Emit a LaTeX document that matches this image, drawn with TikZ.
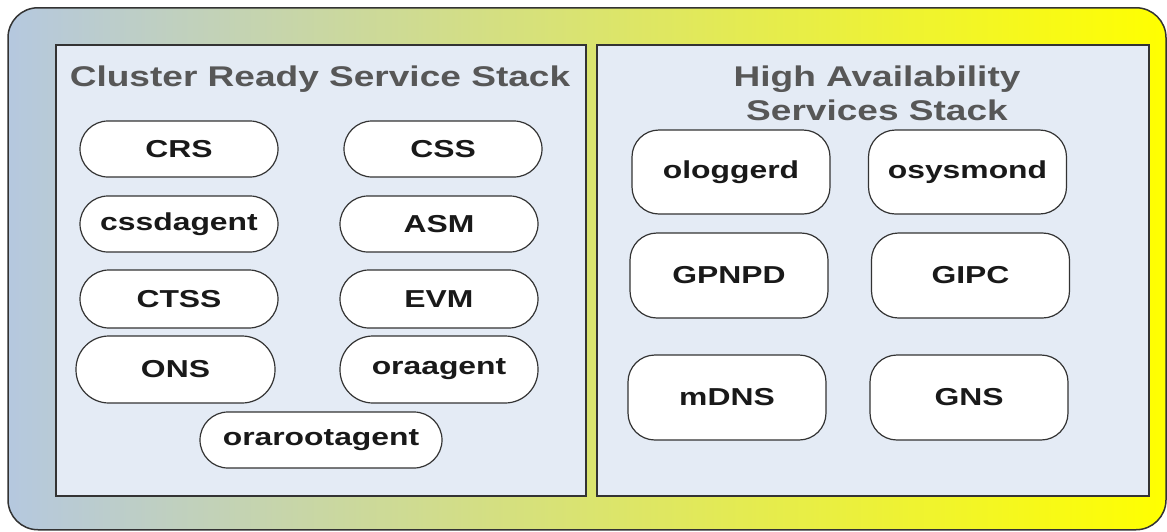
\documentclass[tikz,border=0pt]{standalone}
\usepackage{fontspec}
\newfontfamily\dfont[FakeStretch=1.3]{Liberation Sans}
\usetikzlibrary{positioning}
\definecolor{bgleft}{HTML}{B5C8DF}
\definecolor{bgright}{HTML}{FFFF00}
\definecolor{panelfill}{HTML}{E4EBF5}
\definecolor{edge}{HTML}{333333}
\definecolor{titlegray}{HTML}{575757}
\tikzset{
  outerbox/.style={draw=edge, line width=1.5pt, rounded corners=30pt, left color=bgleft, right color=bgright, inner sep=0pt},
  panel/.style={draw=edge, line width=1.5pt, fill=panelfill, inner sep=0pt},
  pill/.style={draw=edge, line width=1.2pt, fill=white, rounded corners=28pt, inner sep=0pt,
    minimum width=198pt, minimum height=56pt, font=\dfont\bfseries\fontsize{24.5}{29}\selectfont, text=black!90},
  rbox/.style={draw=edge, line width=1.2pt, fill=white, rounded corners=27pt, inner sep=0pt,
    minimum width=198pt, minimum height=85pt, font=\dfont\bfseries\fontsize{24.5}{29}\selectfont, text=black!90},
  ttl/.style={font=\dfont\bfseries\fontsize{28.5}{34}\selectfont, text=titlegray, inner sep=0pt, align=center}
}
\begin{document}
\begin{tikzpicture}[x=1pt, y=-1pt]
\useasboundingbox (0,0) rectangle (1167,531);
\node[outerbox, minimum width=1158pt, minimum height=522pt] (bg) at (587,268.75) {};
\node[panel, minimum width=530pt, minimum height=451pt] (crsstack) at (321,270.5) {};
\node[panel, minimum width=552pt, minimum height=451pt] (hasstack) at (873,270.5) {};
\node[ttl, anchor=base] (crstitle) at (320,86) {Cluster Ready Service Stack};
\node[ttl, anchor=base] (hastitle1) at (877,86) {High Availability};
\node[ttl, anchor=base] (hastitle2) at (877,120) {Services Stack};
% left stack
\node[pill] (crs) at (179,149) {CRS};
\node[pill] (css) at (443,149) {CSS};
\node[pill] (cssdagent) at (179,224) {cssdagent};
\node[pill] (asm) at (439,224) {ASM};
\node[pill, minimum height=58pt, rounded corners=29pt] (ctss) at (179,299) {CTSS};
\node[pill, minimum height=58pt, rounded corners=29pt] (evm) at (439,299) {EVM};
\node[pill, minimum width=199pt, minimum height=67pt, rounded corners=33pt] (ons) at (175.5,369.5) {ONS};
\node[pill, minimum height=67pt, rounded corners=33pt] (oraagent) at (439,369.5) {oraagent};
\node[pill, minimum width=242pt] (orarootagent) at (321,440) {orarootagent};
% right stack
\node[rbox, minimum height=84pt] (ologgerd) at (731,172) {ologgerd};
\node[rbox, minimum height=84pt] (osysmond) at (967.5,172) {osysmond};
\node[rbox] (gpnpd) at (729,275.5) {GPNPD};
\node[rbox] (gipc) at (970.5,275.5) {GIPC};
\node[rbox] (mdns) at (727,397.5) {mDNS};
\node[rbox] (gns) at (969,397.5) {GNS};
\end{tikzpicture}
\end{document}
